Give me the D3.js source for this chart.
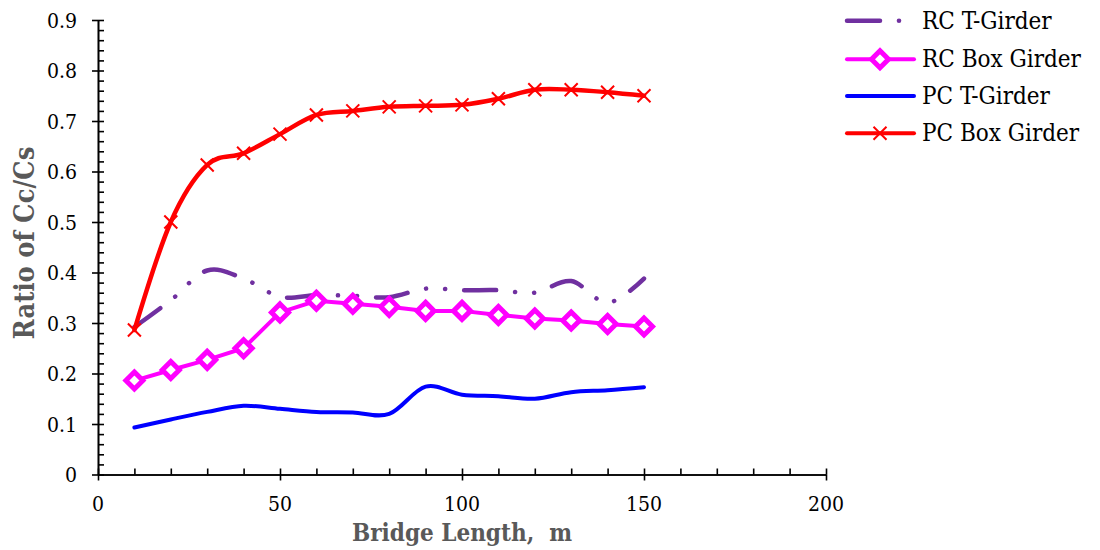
<!DOCTYPE html>
<html>
<head>
<meta charset="utf-8">
<script src="https://cdn.jsdelivr.net/npm/d3@7"></script>
<style>
  body { margin: 0; background: #fff; }
  svg text { font-family: "DejaVu Serif Condensed", "DejaVu Serif", serif; font-stretch: condensed; }
</style>
</head>
<body>
<div class="chart"></div>
<script>
// bridge lengths (m)
const lengths = [10, 20, 30, 40, 50, 60, 70, 80, 90, 100, 110, 120, 130, 140, 150];
// ratio Cc/Cs
const rcTGirder = [0.292, 0.345, 0.404, 0.388, 0.352, 0.355, 0.354, 0.351, 0.368, 0.365, 0.365, 0.36, 0.383, 0.34, 0.388];
const rcBoxGirder = [0.186, 0.207, 0.227, 0.25, 0.321, 0.344, 0.338, 0.332, 0.324, 0.324, 0.316, 0.309, 0.305, 0.298, 0.293];
const pcTGirder = [0.093, 0.109, 0.124, 0.136, 0.13, 0.124, 0.123, 0.12, 0.174, 0.158, 0.155, 0.15, 0.163, 0.167, 0.173];
const pcBoxGirder = [0.286, 0.5, 0.613, 0.636, 0.674, 0.712, 0.72, 0.728, 0.73, 0.732, 0.744, 0.762, 0.762, 0.757, 0.75];

const xTickVals = [0, 50, 100, 150, 200];
const yTickVals = [0, 0.1, 0.2, 0.3, 0.4, 0.5, 0.6, 0.7, 0.8, 0.9];
const seriesNames = ["RC T-Girder", "RC Box Girder", "PC T-Girder", "PC Box Girder"];

const svgWidth = 1100;
const svgHeight = 550;

const svg = d3.select(".chart").append("svg")
  .attr("width", svgWidth).attr("height", svgHeight);

const xScale = d3.scaleLinear().domain([0, 200]).range([98, 826]);
const yScale = d3.scaleLinear().domain([0, 0.9]).range([474.5, 20]);

// axes: minor ticks inside, major ticks crossing
const yMinor = d3.range(0, 0.9001, 0.02);
const xMinor = d3.range(0, 201, 10);

const yAxisG = svg.append("g").attr("transform", `translate(${xScale(0)},0)`);
yAxisG.append("g").call(d3.axisLeft(yScale).tickValues(yMinor).tickSize(-6).tickSizeOuter(0).tickFormat(""));
yAxisG.append("g").call(d3.axisLeft(yScale).tickValues(yTickVals).tickSize(6).tickSizeOuter(0).tickFormat(""));

const xAxisG = svg.append("g").attr("transform", `translate(0,${yScale(0)})`);
xAxisG.append("g").call(d3.axisBottom(xScale).tickValues(xMinor).tickSize(-6).tickSizeOuter(0).tickFormat(""));
xAxisG.append("g").call(d3.axisBottom(xScale).tickValues(xTickVals).tickSize(6).tickSizeOuter(0).tickFormat(""));

svg.selectAll(".domain, .tick line").attr("stroke", "#000").attr("stroke-width", 1.6);

// tick labels
svg.append("g").selectAll("text")
  .data(yTickVals)
  .enter()
  .append("text")
  .attr("x", 77)
  .attr("y", (d) => yScale(d) + 7.5)
  .attr("text-anchor", "end")
  .attr("font-size", 21)
  .text((d) => (d === 0 ? "0" : d3.format(".1f")(d)));

svg.append("g").selectAll("text")
  .data(xTickVals)
  .enter()
  .append("text")
  .attr("x", (d) => xScale(d))
  .attr("y", 511)
  .attr("text-anchor", "middle")
  .attr("font-size", 21)
  .text((d) => d);

// axis titles
svg.append("text")
  .attr("x", 462)
  .attr("y", 541)
  .attr("text-anchor", "middle")
  .attr("font-size", 24)
  .attr("font-weight", "bold")
  .attr("fill", "#595959")
  .text("Bridge Length,\u00a0 m");

svg.append("text")
  .attr("transform", "translate(34,243) rotate(-90)")
  .attr("text-anchor", "middle")
  .attr("font-size", 27)
  .attr("font-weight", "bold")
  .attr("fill", "#595959")
  .text("Ratio of Cc/Cs");

// series
const smooth = d3.line()
  .x((d, i) => xScale(lengths[i]))
  .y((d) => yScale(d))
  .curve(d3.curveCardinal.tension(0));
const straight = d3.line()
  .x((d, i) => xScale(lengths[i]))
  .y((d) => yScale(d));

const purple = "#7030a0";
const magenta = "#ff00ff";
const blue = "#0000ff";
const red = "#ff0000";
const dashDotDot = "32,19,0.1,19,0.1,19";

svg.append("path")
  .attr("d", smooth(pcTGirder))
  .attr("fill", "none").attr("stroke", blue).attr("stroke-width", 4)
  .attr("stroke-linecap", "round");

svg.append("path")
  .attr("d", smooth(rcTGirder))
  .attr("fill", "none").attr("stroke", purple).attr("stroke-width", 4.5)
  .attr("stroke-linecap", "round")
  .attr("stroke-dasharray", dashDotDot);

svg.append("path")
  .attr("d", straight(rcBoxGirder))
  .attr("fill", "none").attr("stroke", magenta).attr("stroke-width", 4);

const diamond = (cx, cy, r) => `M${cx},${cy - r}L${cx + r},${cy}L${cx},${cy + r}L${cx - r},${cy}Z`;

svg.append("g").selectAll("path")
  .data(rcBoxGirder)
  .enter()
  .append("path")
  .attr("d", (d, i) => diamond(xScale(lengths[i]), yScale(d), 8.5))
  .attr("fill", "#fff").attr("stroke", magenta).attr("stroke-width", 5);

svg.append("path")
  .attr("d", smooth(pcBoxGirder))
  .attr("fill", "none").attr("stroke", red).attr("stroke-width", 4.5)
  .attr("stroke-linecap", "round");

const cross = (cx, cy, r) => `M${cx - r},${cy - r}L${cx + r},${cy + r}M${cx - r},${cy + r}L${cx + r},${cy - r}`;

svg.append("g").selectAll("path")
  .data(pcBoxGirder)
  .enter()
  .append("path")
  .attr("d", (d, i) => cross(xScale(lengths[i]), yScale(d), 6.5))
  .attr("fill", "none").attr("stroke", red).attr("stroke-width", 2);

// legend
const legendY = [20.7, 59.3, 96, 133.3];
const legend = svg.append("g");
legend.selectAll("text")
  .data(seriesNames)
  .enter()
  .append("text")
  .attr("x", 922)
  .attr("y", (d, i) => legendY[i] + 8)
  .attr("font-size", 24)
  .text((d) => d);

legend.append("line")
  .attr("x1", 847).attr("x2", 880).attr("y1", legendY[0]).attr("y2", legendY[0])
  .attr("stroke", purple).attr("stroke-width", 4.5).attr("stroke-linecap", "round");
legend.append("circle")
  .attr("cx", 899).attr("cy", legendY[0]).attr("r", 2.3).attr("fill", purple);

legend.append("line")
  .attr("x1", 847).attr("x2", 914).attr("y1", legendY[1]).attr("y2", legendY[1])
  .attr("stroke", magenta).attr("stroke-width", 4).attr("stroke-linecap", "round");
legend.append("path")
  .attr("d", diamond(880, legendY[1], 8.5))
  .attr("fill", "#fff").attr("stroke", magenta).attr("stroke-width", 5);

legend.append("line")
  .attr("x1", 847).attr("x2", 914).attr("y1", legendY[2]).attr("y2", legendY[2])
  .attr("stroke", blue).attr("stroke-width", 4).attr("stroke-linecap", "round");

legend.append("line")
  .attr("x1", 847).attr("x2", 914).attr("y1", legendY[3]).attr("y2", legendY[3])
  .attr("stroke", red).attr("stroke-width", 4).attr("stroke-linecap", "round");
legend.append("path")
  .attr("d", cross(880, legendY[3], 6.5))
  .attr("fill", "none").attr("stroke", red).attr("stroke-width", 2);
</script>
</body>
</html>
